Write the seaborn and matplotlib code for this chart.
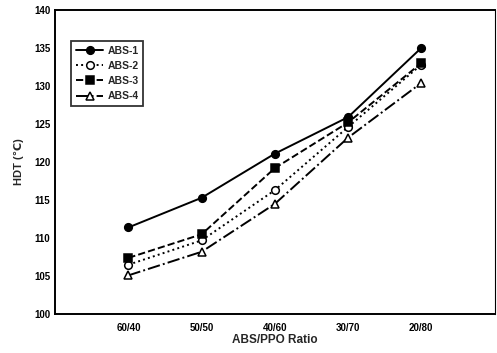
import numpy as np
import pandas as pd
import matplotlib
matplotlib.use('Agg')
import matplotlib.pyplot as plt
import seaborn as sns

# Data
ratios = ['60/40', '50/50', '40/60', '30/70', '20/80']
abs1 = [111.4, 115.3, 121.1, 125.9, 135.0]
abs2 = [106.5, 109.7, 116.3, 124.6, 132.8]
abs3 = [107.4, 110.5, 119.2, 125.2, 133.0]
abs4 = [105.1, 108.2, 114.5, 123.2, 130.4]
series_names = ['ABS-1', 'ABS-2', 'ABS-3', 'ABS-4']

sns.set_theme(style='white')
plt.rcParams['font.family'] = ['Liberation Sans', 'DejaVu Sans']
plt.rcParams['font.weight'] = 'bold'

df = pd.DataFrame({
    'ratio': ratios * 4,
    'hdt': abs1 + abs2 + abs3 + abs4,
    'series': np.repeat(series_names, len(ratios)),
})

styles = {
    'ABS-1': dict(marker='o', ls='-', mfc='black'),
    'ABS-2': dict(marker='o', ls=':', mfc='white'),
    'ABS-3': dict(marker='s', ls='--', mfc='black'),
    'ABS-4': dict(marker='^', ls='-.', mfc='white'),
}

fig = plt.figure(figsize=(4.97, 3.53), dpi=100)
ax = fig.add_axes([0.111, 0.110, 0.884, 0.862])

for name in series_names:
    st = styles[name]
    sub = df[df['series'] == name]
    sns.lineplot(data=sub, x='ratio', y='hdt', ax=ax, color='black',
                 linestyle=st['ls'], marker=st['marker'], markersize=5.5,
                 markerfacecolor=st['mfc'], markeredgecolor='black',
                 markeredgewidth=1.1, lw=1.4, label=name)

ax.set_xlim(-1, 5)
ax.set_ylim(100, 140)
ax.set_yticks(np.arange(100, 141, 5))
ax.set_xticks(range(len(ratios)))
ax.set_xticklabels(ratios)
ax.tick_params(axis='both', direction='in', length=3, width=1, labelsize=7, colors='black')
ax.tick_params(axis='x', pad=6)
for lbl in ax.get_xticklabels() + ax.get_yticklabels():
    lbl.set_fontweight('bold')

ax.set_xlabel('ABS/PPO Ratio', fontsize=8.5, fontweight='bold', labelpad=1)
ax.set_ylabel('HDT (\u2103)', fontsize=8, fontweight='bold', labelpad=7)

for side in ['left', 'bottom', 'top']:
    ax.spines[side].set_color('black')
    ax.spines[side].set_linewidth(1.4)
ax.spines['right'].set_color('black')
ax.spines['right'].set_linewidth(0.8)

leg = ax.legend(loc='upper left', bbox_to_anchor=(0.025, 0.915), fontsize=7.5,
                frameon=True, fancybox=False, edgecolor='black',
                handlelength=2.6, borderpad=0.45, labelspacing=0.5,
                handletextpad=0.4)
leg.get_frame().set_linewidth(1.3)
for t in leg.get_texts():
    t.set_fontweight('bold')

fig.savefig('out.png', dpi=100)
